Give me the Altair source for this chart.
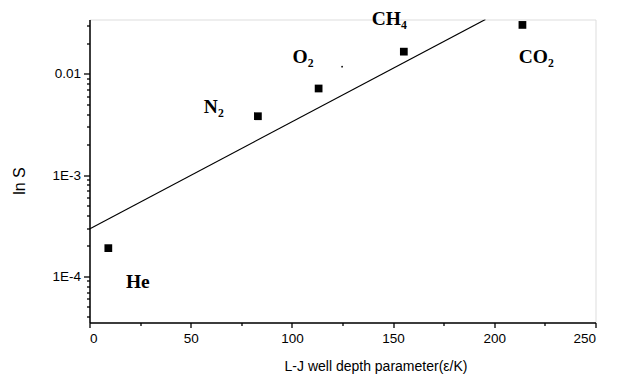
import altair as alt
import pandas as pd

# --- data ---
gases = ["He", "N\u2082", "O\u2082", "CH\u2084", "CO\u2082"]
eps_k = [9.3, 83.2, 113.2, 155.3, 213.9]
ln_s = [1.9e-4, 3.82e-3, 7.18e-3, 0.0166, 0.0305]

# label anchor positions (data coordinates, left/baseline)
label_x = [18.0, 56.5, 100.3, 139.4, 212.1]
label_y = [7.73e-5, 4.09e-3, 0.01276, 0.0305, 0.01276]

# fitted straight line (in log space) endpoints
fit_x = [0.0, 195.6]
fit_y = [2.94e-4, 0.0345]

# stray dot in the scan
dot_x = [124.8]
dot_y = [0.0118]

x_ticks = [0, 25, 50, 75, 100, 125, 150, 175, 200, 225, 250]
y_ticks = ([k * 1e-5 for k in range(4, 10)] + [k * 1e-4 for k in range(1, 10)]
           + [k * 1e-3 for k in range(1, 10)] + [0.01, 0.02, 0.03])

x_domain = [0, 250]
y_domain = [3.5e-5, 0.0345]

pts = pd.DataFrame({"x": eps_k, "y": ln_s, "gas": gases})
labs = pd.DataFrame({"x": label_x, "y": label_y, "gas": gases})
fit = pd.DataFrame({"x": fit_x, "y": fit_y})
dot = pd.DataFrame({"x": dot_x, "y": dot_y})

label_font = "Liberation Sans"

xscale = alt.Scale(domain=x_domain, nice=False, zero=False)
yscale = alt.Scale(type="log", domain=y_domain, nice=False)

xaxis = alt.Axis(
    title="L-J well depth parameter(\u03b5/K)",
    values=x_ticks,
    labelExpr="datum.value % 50 == 0 ? datum.label : ''",
    grid=False,
    domainColor="black", domainWidth=1.5,
    tickColor="black", tickWidth=1.3,
    tickSize={"condition": {"test": "datum.value % 50 == 0", "value": 5}, "value": 3},
    labelFont=label_font, labelFontSize=13.5, labelColor="black", labelPadding=4,
    titleFont=label_font, titleFontSize=14, titleFontWeight="normal", titleColor="black",
    titleX=286, titleY=44, titleAnchor="middle", titleBaseline="middle",
)

yaxis = alt.Axis(
    title="ln S",
    values=y_ticks,
    labelExpr="datum.value == 0.01 ? '0.01' : (abs(datum.value - 0.001) < 1e-9 ? '1E-3' : (abs(datum.value - 0.0001) < 1e-10 ? '1E-4' : ''))",
    grid=False,
    domainColor="black", domainWidth=1.5,
    tickColor="black", tickWidth=1.3,
    tickSize={"condition": {"test": "abs(log(datum.value)/LN10 - round(log(datum.value)/LN10)) < 1e-6", "value": 6}, "value": 3},
    labelFont=label_font, labelFontSize=13.5, labelColor="black", labelPadding=3,
    titleFont=label_font, titleFontSize=16, titleFontWeight="normal", titleColor="black",
    titleX=-70, titleY=161, titleAngle=270, titleBaseline="middle", titleAnchor="middle",
)

base_x = alt.X("x:Q", scale=xscale, axis=xaxis)
base_y = alt.Y("y:Q", scale=yscale, axis=yaxis)

line = alt.Chart(fit).mark_line(color="black", strokeWidth=1.2, clip=True).encode(
    x=alt.X("x:Q", scale=xscale), y=alt.Y("y:Q", scale=yscale)
)

points = alt.Chart(pts).mark_point(shape="square", filled=True, color="black", size=60, opacity=1).encode(
    x=base_x, y=base_y
)

stray = alt.Chart(dot).mark_point(shape="circle", filled=True, color="black", size=3, opacity=1).encode(
    x=alt.X("x:Q", scale=xscale), y=alt.Y("y:Q", scale=yscale)
)

labels = alt.Chart(labs).mark_text(
    font="Liberation Serif", fontWeight="bold", fontSize=19.5, color="black",
    align="left", baseline="alphabetic"
).encode(
    x=alt.X("x:Q", scale=xscale), y=alt.Y("y:Q", scale=yscale), text="gas:N"
)

chart = alt.layer(points, line, stray, labels).properties(
    width=506, height=303,
    autosize=alt.AutoSizeParams(type="none"),
    padding={"left": 81.5, "top": 11.5, "right": 13, "bottom": 52},
).configure_view(stroke=None).configure(background="white")

chart.save("out.html", embed_options={"renderer": "svg", "actions": False})
